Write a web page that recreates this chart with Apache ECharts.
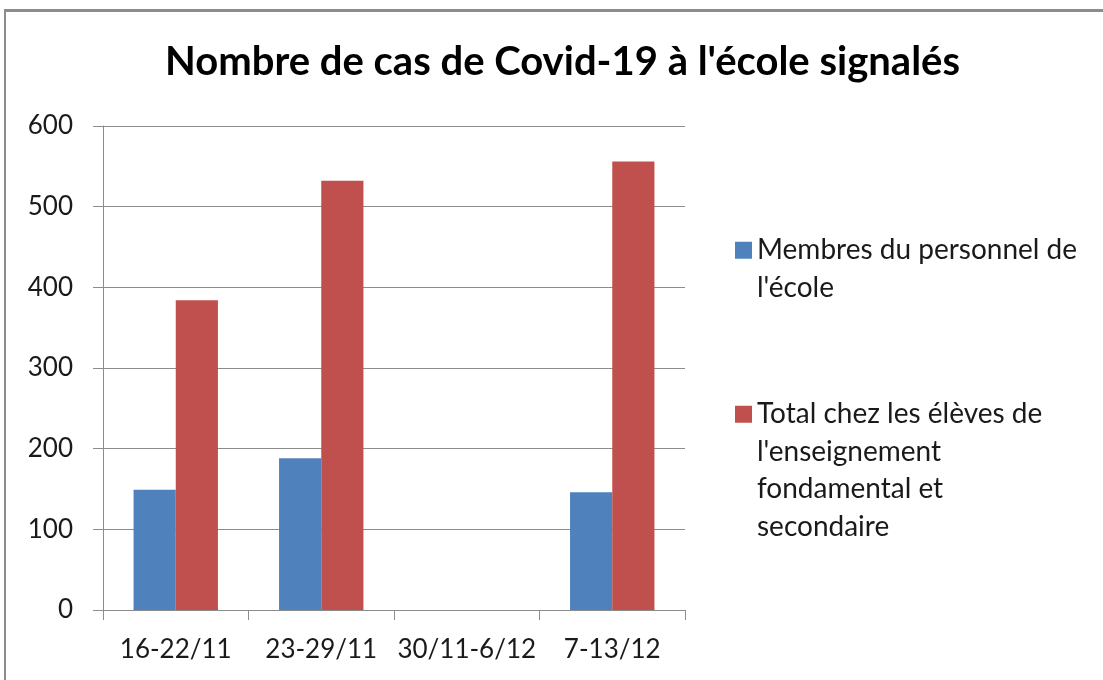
<!DOCTYPE html>
<html>
<head>
<meta charset="utf-8">
<script src="https://cdn.jsdelivr.net/npm/echarts@6/dist/echarts.min.js"></script>
<style>
html,body{margin:0;padding:0;background:#fff;}
#frame{position:absolute;left:4px;top:9px;width:1099px;height:671px;border-top:3px solid #8c8c8c;border-left:2px solid #8c8c8c;box-sizing:border-box;}
#chart{position:absolute;left:0;top:0;width:1103px;height:680px;}
</style>
</head>
<body>
<div id="frame"></div>
<div id="chart"></div>
<script>
const title = "Nombre de cas de Covid-19 à l'école signalés";
const categories = ["16-22/11", "23-29/11", "30/11-6/12", "7-13/12"];
const seriesNames = ["Membres du personnel de l'école", "Total chez les élèves de l'enseignement fondamental et secondaire"];
const legendLines = [["Membres du personnel de", "l'école"], ["Total chez les élèves de", "l'enseignement", "fondamental et", "secondaire"]];
const staffValues = [149, 188, null, 146];
const pupilValues = [384, 532, null, 556];
const yTicks = { min: 0, max: 600, interval: 100 };

const FONT = 'Lato, "Open Sans", sans-serif';
// legend text: pad with leading empty lines so the icon sits beside the first line
const labelMap = {};
seriesNames.forEach((n, i) => {
  const lines = legendLines[i];
  labelMap[n] = '\n'.repeat(lines.length - 1) + lines.join('\n');
});

const legendCommon = {
  orient: 'vertical',
  left: 735,
  padding: 0,
  itemWidth: 17, itemHeight: 17,
  itemGap: 0,
  icon: 'rect',
  formatter: n => labelMap[n],
  textStyle: { fontFamily: FONT, fontSize: 28, color: '#1a1a1a', lineHeight: 37.5 }
};

const chart = echarts.init(document.getElementById('chart'), null, { renderer: 'canvas' });
chart.setOption({
  backgroundColor: 'transparent',
  animation: false,
  title: {
    text: title,
    left: 165,
    top: 42,
    padding: 0,
    textStyle: { fontFamily: FONT, fontWeight: 'bold', fontSize: 40, color: '#000' }
  },
  grid: { left: 103, right: 418, top: 126, bottom: 70 },
  legend: [
    Object.assign({ data: [seriesNames[0]], top: 250 - 56 }, legendCommon),
    Object.assign({ data: [seriesNames[1]], top: 414 - 131 }, legendCommon)
  ],
  xAxis: {
    type: 'category',
    data: categories,
    axisLine: { lineStyle: { color: '#8c8c8c', width: 1 } },
    axisTick: { show: true, length: 10, alignWithLabel: false, lineStyle: { color: '#8c8c8c' } },
    axisLabel: { fontFamily: FONT, fontSize: 26, color: '#1a1a1a', margin: 27, interval: 0 }
  },
  yAxis: {
    type: 'value',
    min: yTicks.min, max: yTicks.max, interval: yTicks.interval,
    axisLine: { show: true, lineStyle: { color: '#8c8c8c', width: 1 } },
    axisTick: { show: true, length: 10, lineStyle: { color: '#8c8c8c' } },
    axisLabel: { fontFamily: FONT, fontSize: 26, color: '#1a1a1a', margin: 30 },
    splitLine: { lineStyle: { color: '#8c8c8c', width: 1 } }
  },
  series: [
    { name: seriesNames[0], type: 'bar', data: staffValues, itemStyle: { color: '#4F81BD' }, barGap: '0%', barCategoryGap: '42%' },
    { name: seriesNames[1], type: 'bar', data: pupilValues, itemStyle: { color: '#C0504D' }, barGap: '0%', barCategoryGap: '42%' }
  ]
});
</script>
</body>
</html>
